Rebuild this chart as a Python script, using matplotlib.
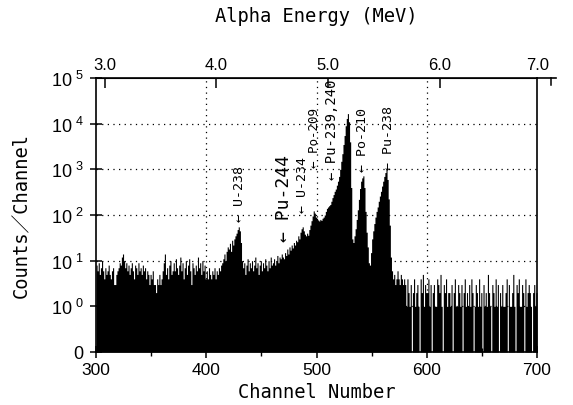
import numpy as np
import matplotlib
matplotlib.use("Agg")
import matplotlib.pyplot as plt
from matplotlib.ticker import NullLocator, MultipleLocator

plt.rcParams['font.family'] = ['Liberation Sans', 'DejaVu Sans']
mono = ['DejaVu Sans Mono', 'Noto Sans CJK JP']

# channel numbers 300..699, one count value per channel
channels = np.arange(300, 700)
counts = [
    8, 6, 9, 5, 7, 10, 6, 4, 7, 5,            # 300
    6, 8, 5, 4, 6, 7, 3, 3, 5, 6,             # 310
    7, 9, 8, 12, 14, 10, 7, 9, 6, 8,          # 320
    5, 7, 9, 6, 4, 8, 7, 5, 9, 6,             # 330
    7, 5, 8, 6, 7, 4, 6, 5, 3, 5,             # 340
    4, 6, 3, 3, 2, 4, 3, 5, 3, 4,             # 350
    6, 9, 14, 5, 7, 4, 8, 10, 5, 6,           # 360
    9, 6, 11, 7, 5, 8, 12, 6, 9, 4,           # 370
    7, 10, 5, 8, 11, 6, 3, 9, 7, 5,           # 380
    8, 6, 12, 7, 9, 5, 10, 6, 8, 4,           # 390
    6, 4, 7, 5, 4, 6, 5, 7, 4, 6,             # 400
    5, 7, 6, 8, 9, 11, 14, 10, 16, 20,        # 410
    18, 24, 16, 28, 22, 30, 35, 40, 48, 55,   # 420
    45, 25, 10, 7, 9, 5, 8, 11, 6, 9,         # 430
    7, 10, 6, 8, 12, 7, 9, 5, 8, 10,          # 440
    6, 9, 7, 11, 8, 6, 10, 7, 12, 8,          # 450
    9, 11, 8, 10, 13, 9, 12, 11, 14, 12,      # 460
    11, 15, 13, 18, 14, 20, 17, 22, 19, 25,   # 470
    22, 28, 26, 35, 30, 42, 50, 55, 45, 38,   # 480
    35, 40, 36, 48, 60, 75, 95, 123, 110, 90, # 490
    85, 78, 74, 80, 76, 85, 90, 100, 120, 140,          # 500
    150, 160, 170, 200, 240, 280, 330, 370, 450, 550,   # 510
    700, 1000, 1500, 2200, 3500, 5500, 9000, 13000, 16600, 11000,  # 520
    4000, 400, 30, 25, 35, 50, 80, 130, 220, 380,       # 530
    550, 650, 720, 400, 120, 42, 20, 9, 8, 15,          # 540
    30, 45, 65, 90, 120, 150, 200, 260, 330, 430,       # 550
    550, 700, 850, 1000, 600, 225, 60, 12, 6, 4,        # 560
    5, 3, 4, 6, 4, 3, 5, 4, 3, 4,             # 570
    3, 1, 4, 2, 1, 3, 0, 2, 4, 1,             # 580
    2, 3, 1, 0, 4, 2, 5, 1, 3, 2,             # 590
    2, 4, 1, 3, 0, 2, 3, 1, 1, 4,             # 600
    3, 2, 5, 1, 0, 3, 2, 4, 1, 2,             # 610
    2, 1, 3, 0, 2, 4, 1, 1, 3, 2,             # 620
    1, 3, 0, 2, 4, 1, 2, 1, 3, 1,             # 630
    4, 2, 0, 1, 3, 2, 1, 4, 1, 2,             # 640
    0, 3, 1, 2, 1, 5, 2, 1, 0, 3,             # 650
    2, 1, 4, 1, 3, 0, 2, 1, 3, 1,             # 660
    1, 2, 4, 0, 3, 1, 1, 2, 5, 1,             # 670
    0, 3, 2, 4, 1, 1, 3, 2, 0, 4,             # 680
    1, 2, 3, 2, 1, 0, 2, 3, 1, 2,             # 690
]

# y ticks: bottom of the log axis is labelled "0"
ytick_vals = [0.1, 1, 10, 100, 1000, 10000, 100000]
ytick_labels = ['0'] + [r'$\mathregular{10^{\ %d}}$' % k for k in range(6)]

# top energy axis
energy_ticks = [3.0, 4.0, 5.0, 6.0]
energy_labels = ['3.0', '4.0', '5.0', '6.0']

# peak labels
iso_names = ['U-238', 'Pu-244', 'U-234', 'Po-209', 'Pu-239,240', 'Po-210', 'Pu-238']
iso_ch = [430, 470.5, 487, 498, 514, 542, 565]
iso_y = [74, 27, 117, 1120, 620, 910, 1000]
iso_size = [9.5, 13, 9.5, 9, 10, 9.5, 9.5]


def ch2e(ch):
    return 3.0 + (np.asarray(ch) - 308.0) / 101.2


def e2ch(e):
    return 308.0 + (np.asarray(e) - 3.0) * 101.2


fig = plt.figure(figsize=(5.73, 4.06), dpi=100)
ax = fig.add_axes([96 / 573, 53 / 406, 441 / 573, 274 / 406])

y = np.maximum(np.array(counts, dtype=float), 0.1)
edges = np.append(channels, 700)
ax.fill_between(edges, 0.1, np.append(y, y[-1]), step='post',
                color='black', linewidth=0, zorder=2)

ax.set_yscale('log')
ax.set_ylim(0.1, 1e5)
ax.set_xlim(300, 700)
ax.set_yticks(ytick_vals)
ax.set_yticklabels(ytick_labels, fontsize=13)
ax.yaxis.set_minor_locator(NullLocator())
ax.set_xticks([300, 400, 500, 600, 700])
ax.xaxis.set_minor_locator(MultipleLocator(50))
ax.tick_params(axis='x', labelsize=12.5, direction='inout', length=8, width=1.1, pad=3)
ax.tick_params(axis='x', which='minor', direction='inout', length=6, width=1.0)
ax.tick_params(axis='y', direction='inout', length=8, width=1.1, pad=5)

# dotted grid
for v in [1, 10, 100, 1000, 10000]:
    ax.axhline(v, color='black', lw=0.9, ls=(0, (1, 3.5)), zorder=1)
for v in [400, 500, 600]:
    ax.axvline(v, color='black', lw=0.9, ls=(0, (1, 3.5)), zorder=1)

for s in ax.spines.values():
    s.set_linewidth(1.2)

ax.set_xlabel('Channel Number', family=mono, fontsize=13.5, labelpad=4)
ax.set_ylabel('Counts／Channel', family=mono, fontsize=13.5, labelpad=14)

sec = ax.secondary_xaxis('top', functions=(ch2e, e2ch))
sec.set_xticks(energy_ticks)
sec.set_xticklabels(energy_labels)
sec.xaxis.set_minor_locator(NullLocator())
sec.tick_params(direction='in', length=7, width=1.1, labelsize=12, pad=4)
sec.set_xlabel('Alpha Energy (MeV)', family=mono, fontsize=13.5, labelpad=26)
# 7.0 lies just past the right edge of the channel range
x7 = float(e2ch(7.0))
tr = ax.get_xaxis_transform()
ax.plot([700, x7 + 4], [1.0, 1.0], color='black', lw=1.2, transform=tr, clip_on=False)
ax.plot([x7, x7], [1.0, 0.975], color='black', lw=1.1, transform=tr, clip_on=False)
ax.annotate('7.0', xy=(701, 1.0), xycoords=tr, xytext=(0, 4),
            textcoords='offset points', ha='center', va='bottom', fontsize=12)

for name, cx, cy, fs in zip(iso_names, iso_ch, iso_y, iso_size):
    ax.text(cx, cy, '← ' + name, rotation=90, ha='center', va='bottom',
            family=mono, fontsize=fs, zorder=4)

fig.savefig('out.png', dpi=100)
